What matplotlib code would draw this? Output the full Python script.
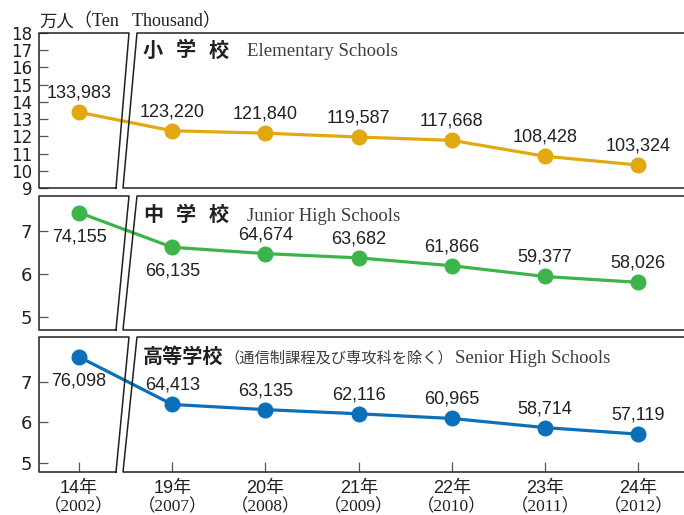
import matplotlib
matplotlib.use('Agg')
import matplotlib.pyplot as plt
import matplotlib.transforms as mtransforms
from matplotlib.lines import Line2D
import numpy as np

# ---------------- data ----------------
years_jp = ['14年', '19年', '20年', '21年', '22年', '23年', '24年']
years_ad = ['（2002）', '（2007）', '（2008）', '（2009）', '（2010）', '（2011）', '（2012）']
elementary = [133983, 123220, 121840, 119587, 117668, 108428, 103324]
junior = [74155, 66135, 64674, 63682, 61866, 59377, 58026]
senior = [76098, 64413, 63135, 62116, 60965, 58714, 57119]

elem_ticks = [9, 10, 11, 12, 13, 14, 15, 16, 17, 18]
jh_ticks = [5, 6, 7]
sh_ticks = [5, 6, 7]

# ---------------- style ----------------
W, H = 684, 515
DARK = '#231f20'
GRAY = '#3c3c3c'
C_ELEM = '#e2a810'
C_JH = '#3cb44a'
C_SH = '#0b6fba'
SANS = ['Liberation Sans', 'Noto Sans CJK JP']
TICKSANS = ['DejaVu Sans']
CJK = ['Noto Sans CJK JP', 'DejaVu Sans']
SERIF = ['Liberation Serif', 'Noto Sans CJK JP']

fig = plt.figure(figsize=(W / 100, H / 100), dpi=100)
renderer = fig.canvas.get_renderer()

AX_LEFT, AX_RIGHT = 39, 684


def add_panel(top, bottom):
    return fig.add_axes([AX_LEFT / W, 1 - bottom / H,
                         (AX_RIGHT - AX_LEFT) / W, (bottom - top) / H])


def fx(px):
    return (px - AX_LEFT) / (AX_RIGHT - AX_LEFT)


def draw_frame(ax):
    kw = dict(transform=ax.transAxes, color=DARK, lw=1.1, clip_on=False,
              zorder=5, solid_capstyle='projecting')
    # left box
    ax.add_line(Line2D([fx(116), 0, 0, fx(129), fx(116)], [0, 0, 1, 1, 0], **kw))
    # right box (open on the right)
    ax.add_line(Line2D([1.0, fx(137), fx(123), 1.0], [1, 1, 0, 0], **kw))


def text_seq(x_px, y_px, pieces):
    x = x_px
    for s, kw, gap in pieces:
        t = fig.text(x / W, 1 - y_px / H, s, ha='left', va='baseline', **kw)
        bb = t.get_window_extent(renderer)
        x = bb.x1 + gap


x = np.arange(len(years_jp))

panels = [
    dict(top=33, bottom=188, vals=elementary, color=C_ELEM, ylim=(9, 18),
         ticks=elem_ticks, tsize=12, pos=['up'] * 7),
    dict(top=196, bottom=330, vals=junior, color=C_JH, ylim=(4.7, 7.8),
         ticks=jh_ticks, tsize=13, pos=['down', 'down', 'up', 'up', 'up', 'up', 'up']),
    dict(top=337, bottom=472, vals=senior, color=C_SH, ylim=(4.78, 8.1),
         ticks=sh_ticks, tsize=13, pos=['down', 'up', 'up', 'up', 'up', 'up', 'up']),
]

axes = []
for i, p in enumerate(panels):
    ax = add_panel(p['top'], p['bottom'])
    axes.append(ax)
    ax.set_facecolor('none')
    for sp in ax.spines.values():
        sp.set_visible(False)
    ax.set_xlim(-0.43, 6.49)
    ax.set_ylim(*p['ylim'])
    ax.set_yticks(p['ticks'])
    ax.set_yticklabels([str(t) for t in p['ticks']], family=TICKSANS,
                       fontsize=p['tsize'], color=DARK)
    ax.tick_params(axis='y', direction='in', length=6.5, width=0.9,
                   color='#555555', pad=5)
    vals = np.array(p['vals']) / 10000
    ax.plot(x, vals, color=p['color'], lw=2.3, zorder=3, clip_on=False)
    ax.plot(x, vals, 'o', color=p['color'], ms=10.5, zorder=4, clip_on=False)
    for xi, v, ps in zip(x, p['vals'], p['pos']):
        dy = 19 if ps == 'up' else -24
        ax.annotate(f'{v:,}', (xi, v / 10000), xytext=(0, dy),
                    textcoords='offset pixels', ha='center', va='center',
                    fontsize=13, family=SANS, color=DARK, zorder=6)
    draw_frame(ax)
    if i < 2:
        ax.set_xticks([])
    else:
        ax.set_xticks(x)
        ax.set_xticklabels(years_jp, family=SANS, fontsize=13, color=DARK)
        ax.tick_params(axis='x', direction='in', length=7.5, width=0.9,
                       color='#555555', pad=6)
        trans = mtransforms.blended_transform_factory(ax.transData, ax.transAxes)
        for xi, s in zip(x, years_ad):
            ax.text(xi, -0.26, s, transform=trans, ha='center', va='center',
                    family=SERIF, fontsize=12.5, color=DARK)

# ---------------- titles ----------------
title_kw = dict(family=CJK, fontsize=14.5, fontweight='bold', color=DARK)
eng_kw = dict(family=SERIF, fontsize=13.5, color=GRAY)

for chars, eng, base in [(['小', '学', '校'], 'Elementary Schools', 56.5),
                         (['中', '学', '校'], 'Junior High Schools', 221)]:
    for k, ch in enumerate(chars):
        fig.text((143 + 33 * k) / W, 1 - base / H, ch, ha='left',
                 va='baseline', **title_kw)
    fig.text(247 / W, 1 - base / H, eng, ha='left', va='baseline', **eng_kw)

text_seq(143, 363, [
    ('高等学校', title_kw, 1),
    ('（通信制課程及び専攻科を除く）', dict(family=CJK, fontsize=11, color=GRAY), 2),
    ('Senior High Schools', eng_kw, 0),
])

text_seq(39, 26.5, [
    ('万人', dict(family=CJK, fontsize=12.5, color=DARK), 0),
    ('（Ten   Thousand）', dict(family=SERIF, fontsize=13, color=DARK), 0),
])

fig.savefig('out.png', dpi=100)
